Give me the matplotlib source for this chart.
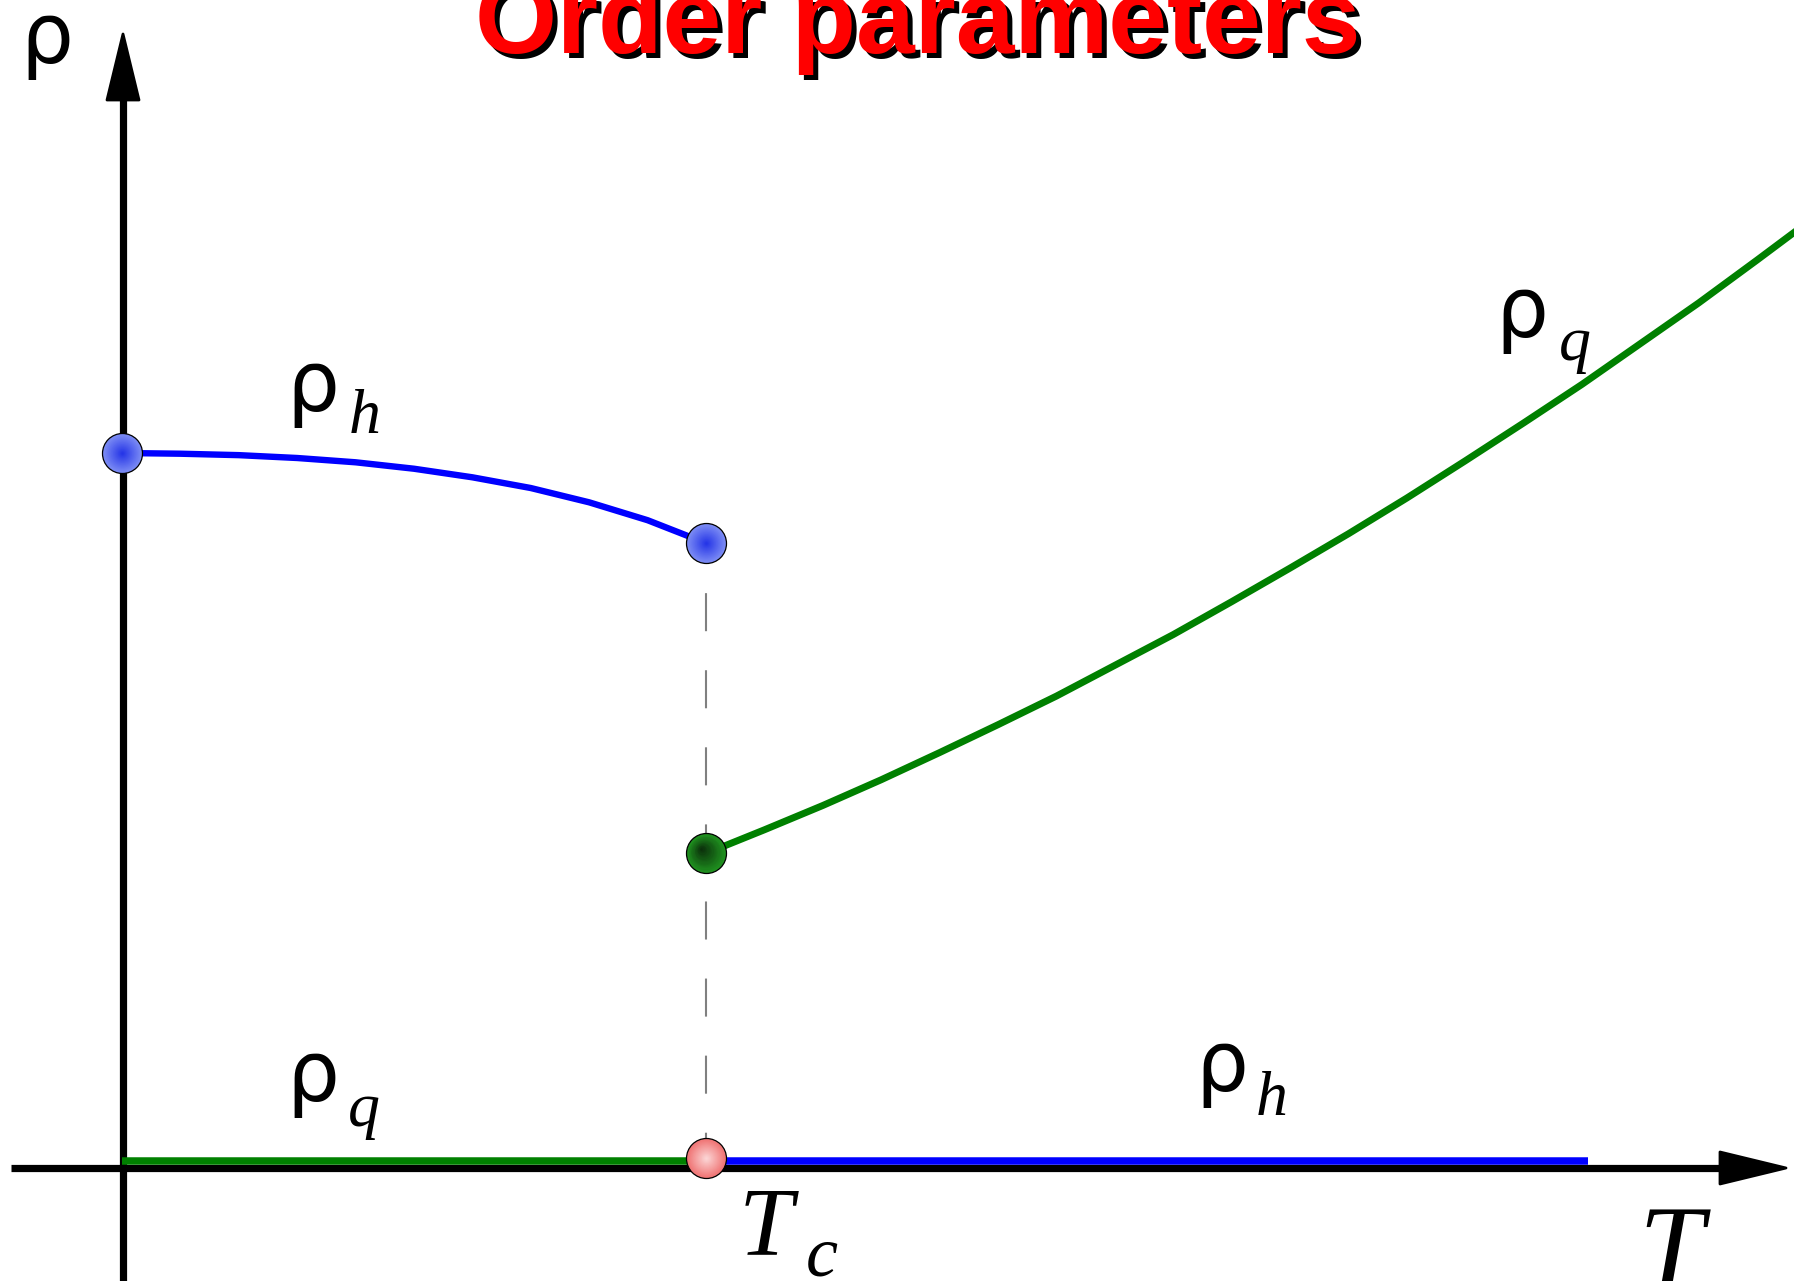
import numpy as np
import matplotlib
matplotlib.use('Agg')
import matplotlib.pyplot as plt
from matplotlib import transforms
from matplotlib.patches import Polygon
from matplotlib.colors import to_rgb

plt.rcParams['lines.scale_dashes'] = False

# ---- data (T in units of Tc, rho in units of rho_h(T=0)) ----
Tc = 1.0
T_h_low = [0.0, 0.1, 0.2, 0.3, 0.4, 0.5, 0.6, 0.7, 0.8, 0.9, 1.0]
rho_h_low = [1.000, 0.999, 0.997, 0.993, 0.987, 0.978, 0.966, 0.951, 0.931, 0.906, 0.874]
T_q_high = [1.0, 1.1, 1.2, 1.3, 1.4, 1.5, 1.6, 1.7, 1.8, 1.9,
            2.0, 2.1, 2.2, 2.3, 2.4, 2.5, 2.6, 2.7, 2.8, 2.9]
rho_q_high = [0.440, 0.473, 0.507, 0.543, 0.581, 0.620, 0.660, 0.703, 0.746, 0.792,
              0.839, 0.887, 0.937, 0.989, 1.042, 1.096, 1.153, 1.210, 1.270, 1.331]
T_q_low = [0.0, 1.0]
rho_q_low = [0.0, 0.0]
T_h_high = [1.0, 2.51]
rho_h_high = [0.0, 0.0]

# ---- figure geometry ----
W, H, DPI = 1794, 1281, 100
X0, Y0, UX, UY = 122, 1168, 584, 715   # origin pixel and unit lengths (px)

fig = plt.figure(figsize=(W / DPI, H / DPI), dpi=DPI)
ax = fig.add_axes([0, 0, 1, 1])
ax.set_xlim(-X0 / UX, (W - X0) / UX)
ax.set_ylim(-(H - Y0) / UY, Y0 / UY)
ax.axis('off')


def P(x, y):
    """pixel (from top-left) -> data coordinates"""
    return (x - X0) / UX, (Y0 - y) / UY


# ---- axes with arrows ----
ax.plot(*zip(P(11, 1168), P(1725, 1168)), color='black', lw=5.2,
        solid_capstyle='butt', zorder=2)
ax.add_patch(Polygon([P(1720, 1152), P(1786, 1168), P(1720, 1184)], closed=True,
                     facecolor='black', edgecolor='black', lw=2, joinstyle='round', zorder=2))
ax.plot(*zip(P(123, 1290), P(123, 95)), color='black', lw=5.2,
        solid_capstyle='butt', zorder=2)
ax.add_patch(Polygon([P(107, 100), P(123, 34), P(139, 100)], closed=True,
                     facecolor='black', edgecolor='black', lw=2, joinstyle='round', zorder=2))

# ---- curves ----
up_line = transforms.offset_copy(ax.transData, fig=fig, x=0, y=7.5, units='dots')
ax.plot(T_q_low, rho_q_low, color='#008000', lw=5.4, solid_capstyle='butt',
        transform=up_line, zorder=3)
ax.plot(T_h_high, rho_h_high, color='#0000ff', lw=5.4, solid_capstyle='butt',
        transform=up_line, zorder=3)
ax.plot(T_h_low, rho_h_low, color='#0000ff', lw=4.6, solid_joinstyle='round', zorder=3)
ax.plot(T_q_high, rho_q_high, color='#008000', lw=5.0, solid_joinstyle='round', zorder=3)

# dashed line at Tc
ax.plot([Tc, Tc], [rho_h_low[-1], 0.0], color='#808080', lw=1.5,
        linestyle=(19.4, (27.4, 28.1)), zorder=1)


# ---- shaded balls ----
def ball(x, y, c_out, c_in, dy=0.0, shift=(0.0, 0.0), n=16, d=40):
    s_full = (d * 72 / DPI) ** 2
    base = transforms.offset_copy(ax.transData, fig=fig, x=0, y=dy, units='dots')
    ax.scatter([x], [y], s=s_full, c=[c_out], edgecolors='black',
               linewidths=0.9, transform=base, zorder=5)
    co = np.array(to_rgb(c_out))
    ci = np.array(to_rgb(c_in))
    for k in range(1, n):
        f = k / n
        col = co + (ci - co) * f
        tr = transforms.offset_copy(ax.transData, fig=fig, x=shift[0] * f,
                                    y=dy + shift[1] * f, units='dots')
        ax.scatter([x], [y], s=s_full * 0.9 * (1 - f) ** 2, c=[col],
                   linewidths=0, transform=tr, zorder=5 + 0.01 * k)


ball(T_h_low[0], rho_h_low[0], '#7888f4', '#2030e6')
ball(T_h_low[-1], rho_h_low[-1], '#7888f4', '#2030e6')
ball(T_q_high[0], rho_q_high[0], '#1f8f1f', '#0a2a0a', shift=(-5, 5))
ball(Tc, 0.0, '#f07878', '#fcdada', dy=10.5)

# ---- labels ----
RHO = dict(fontsize=60, family='DejaVu Sans', ha='left', va='baseline', color='black')
SUB = dict(fontsize=46, family='Liberation Serif', style='italic', ha='left',
           va='baseline', color='black')


def rho_label(x, base, sub, xs, bs):
    ax.text(*P(x, base), 'ρ', **RHO)
    ax.text(*P(xs, bs), sub, **SUB)


ax.text(*P(20, 63), 'ρ', **RHO)
rho_label(286, 411, 'h', 349, 433)
rho_label(286, 1101, 'q', 348, 1126)
rho_label(1195, 1091, 'h', 1256, 1115)
rho_label(1495, 337, 'q', 1559, 360)

ax.text(*P(739, 1254), 'T', fontsize=70, family='Liberation Serif', style='italic',
        ha='left', va='baseline')
ax.text(*P(806, 1275), 'c', fontsize=52, family='Liberation Serif', style='italic',
        ha='left', va='baseline')
ax.text(*P(1638, 1286), 'T', fontsize=84, family='Liberation Serif', style='italic',
        ha='left', va='baseline')

# ---- title with shadow ----
TITLE = 'Order parameters'
ax.text(*P(923, 58), TITLE, fontsize=76, family='Liberation Sans', weight='bold',
        color='black', ha='center', va='baseline', zorder=6)
ax.text(*P(918, 53), TITLE, fontsize=76, family='Liberation Sans', weight='bold',
        color='#ff0000', ha='center', va='baseline', zorder=7)

fig.savefig('out.png', dpi=DPI)
